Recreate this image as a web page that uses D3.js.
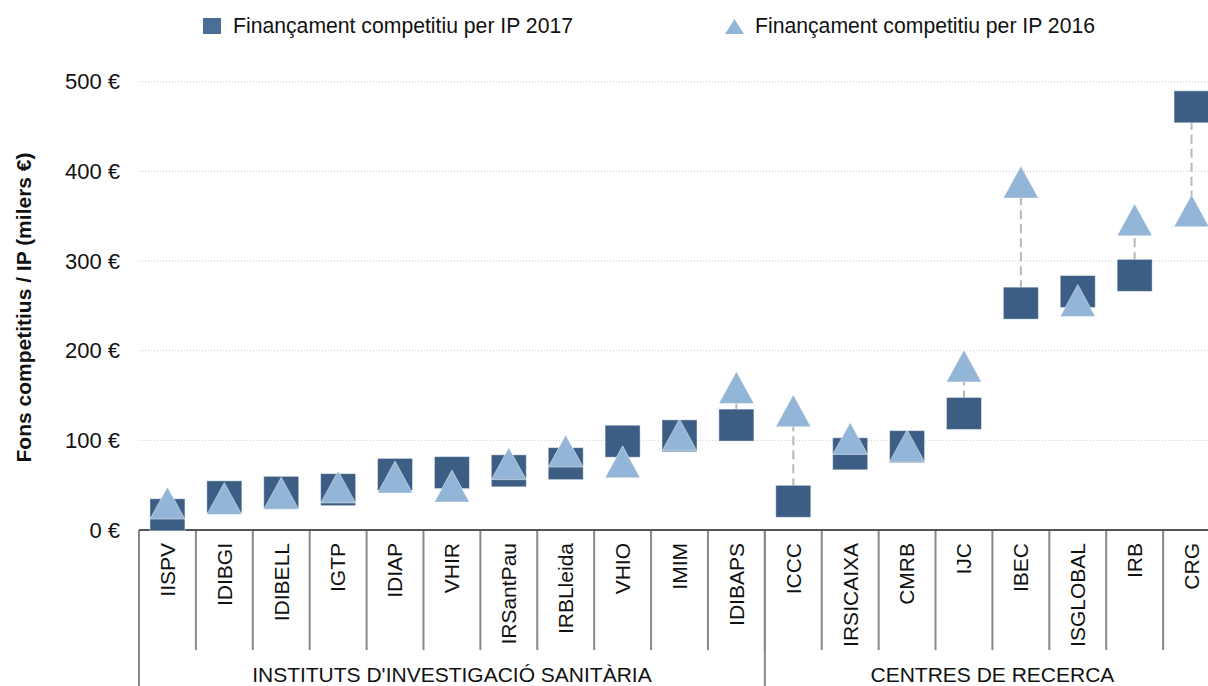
<!DOCTYPE html>
<html>
<head>
<meta charset="utf-8">
<script src="https://cdn.jsdelivr.net/npm/d3@7/dist/d3.min.js"></script>
<style>
  html, body { margin: 0; padding: 0; background: #fff; }
  svg { display: block; font-family: "Liberation Sans", Arial, Helvetica, sans-serif; }
</style>
</head>
<body>
<svg id="chart" width="1208" height="686"></svg>
<script>
const categories = ["IISPV","IDIBGI","IDIBELL","IGTP","IDIAP","VHIR","IRSantPau","IRBLleida","VHIO","IMIM","IDIBAPS","ICCC","IRSICAIXA","CMRB","IJC","IBEC","ISGLOBAL","IRB","CRG"];
const groupNames = ["INSTITUTS D'INVESTIGACIÓ SANITÀRIA", "CENTRES DE RECERCA"];
const groupSizes = [11, 8];
const values2017 = [17, 37, 42, 45, 62, 64, 66, 74, 99, 105, 117, 32, 85, 93, 130, 253, 266, 284, 472];
const values2016 = [30, 35, 41, 48, 59, 49, 74, 88, 76, 106, 159, 133, 102, 94, 183, 388, 256, 346, 356];
const yTicks = [0, 100, 200, 300, 400, 500];
const seriesNames = ["Finançament competitiu per IP 2017", "Finançament competitiu per IP 2016"];

(function () {
const W = 1208, H = 686;
const pLeft = 139, pRight = 1220, pTop = 81.7, pBottom = 530;
const colSq = "#3c5d84", colTri = "#93b5d7";

const svg = d3.select("#chart");
const x = d3.scaleBand().domain(categories).range([pLeft, pRight]).padding(0);
const y = d3.scaleLinear().domain([0, 500]).range([pBottom, pTop]);

// gridlines
svg.append("g").selectAll("line").data(yTicks.filter(d => d > 0)).join("line")
  .attr("x1", pLeft).attr("x2", W)
  .attr("y1", d => y(d)).attr("y2", d => y(d))
  .attr("stroke", "#c8c8c8").attr("stroke-width", 1).attr("stroke-dasharray", "1,2");

// y tick labels
svg.append("g").selectAll("text").data(yTicks).join("text")
  .attr("x", 120).attr("y", d => y(d)).attr("dy", "0.35em")
  .attr("text-anchor", "end").attr("font-size", 22).attr("fill", "#111")
  .text(d => d + " €");

// y title
svg.append("text")
  .attr("transform", `translate(31, ${(150 + 465) / 2}) rotate(-90)`)
  .attr("text-anchor", "middle").attr("font-size", 21).attr("font-weight", "bold").attr("fill", "#111")
  .text("Fons competitius / IP (milers €)");

// category ticks
const bounds = categories.map(c => x(c));
svg.append("g").selectAll("line").data(bounds.slice(1)).join("line")
  .attr("x1", d => d).attr("x2", d => d).attr("y1", pBottom).attr("y2", 650)
  .attr("stroke", "#888").attr("stroke-width", 2);

// group separators
let acc = 0;
const groupStarts = groupSizes.map(s => { const st = acc; acc += s; return st; });
svg.append("g").selectAll("line").data(groupStarts).join("line")
  .attr("x1", d => x(categories[d])).attr("x2", d => x(categories[d]))
  .attr("y1", pBottom).attr("y2", H)
  .attr("stroke", "#888").attr("stroke-width", 2);

// axis line
svg.append("line").attr("x1", pLeft).attr("x2", W).attr("y1", pBottom).attr("y2", pBottom)
  .attr("stroke", "#555").attr("stroke-width", 2);

// category labels
svg.append("g").selectAll("text").data(categories).join("text")
  .attr("transform", d => `translate(${x(d) + x.bandwidth() / 2}, 543) rotate(-90)`)
  .attr("dy", "0.35em").attr("text-anchor", "end").attr("font-size", 21).attr("fill", "#111")
  .text(d => d);

// group labels
svg.append("g").selectAll("text").data(groupNames).join("text")
  .attr("x", (d, i) => {
    const s = groupStarts[i], e = s + groupSizes[i] - 1;
    return (x(categories[s]) + x(categories[e]) + x.bandwidth()) / 2;
  })
  .attr("y", 682).attr("text-anchor", "middle").attr("font-size", 21).attr("fill", "#111")
  .text(d => d);

// connecting dashed lines
const rows = categories.map((c, i) => ({ c, a: values2017[i], b: values2016[i] }));
svg.append("g").selectAll("line").data(rows).join("line")
  .attr("x1", d => x(d.c) + x.bandwidth() / 2).attr("x2", d => x(d.c) + x.bandwidth() / 2)
  .attr("y1", d => y(d.a)).attr("y2", d => y(d.b))
  .attr("stroke", "#b8b8b8").attr("stroke-width", 2).attr("stroke-dasharray", "9,5");

const sw = 35, sh = 32, tw = 35, th = 32;
// squares 2017
svg.append("g").selectAll("rect").data(rows).join("rect")
  .attr("x", d => x(d.c) + x.bandwidth() / 2 - sw / 2)
  .attr("y", d => y(d.a) - sh / 2)
  .attr("width", sw).attr("height", Math.min(sh, 0) + sh)
  .attr("fill", colSq).attr("stroke", "#ffffff").attr("stroke-opacity", 0.45).attr("stroke-width", 1);

// triangles 2016
const triPath = (cx, cy) => `M${cx},${cy - th / 2}L${cx + tw / 2},${cy + th / 2}L${cx - tw / 2},${cy + th / 2}Z`;
svg.append("g").selectAll("path").data(rows).join("path")
  .attr("d", d => triPath(x(d.c) + x.bandwidth() / 2, y(d.b)))
  .attr("fill", colTri).attr("stroke", "#ffffff").attr("stroke-opacity", 0.45).attr("stroke-width", 1);

// legend
const lg = svg.append("g");
lg.append("rect").attr("x", 203).attr("y", 18).attr("width", 18).attr("height", 16).attr("fill", "#4a6f97");
lg.append("text").attr("x", 233).attr("y", 26).attr("dy", "0.35em").attr("font-size", 21.2).attr("fill", "#111").text(seriesNames[0]);
lg.append("path").attr("d", "M734.5,19L744,34L725,34Z").attr("fill", colTri);
lg.append("text").attr("x", 755).attr("y", 26).attr("dy", "0.35em").attr("font-size", 21.2).attr("fill", "#111").text(seriesNames[1]);
})();
</script>
</body>
</html>
